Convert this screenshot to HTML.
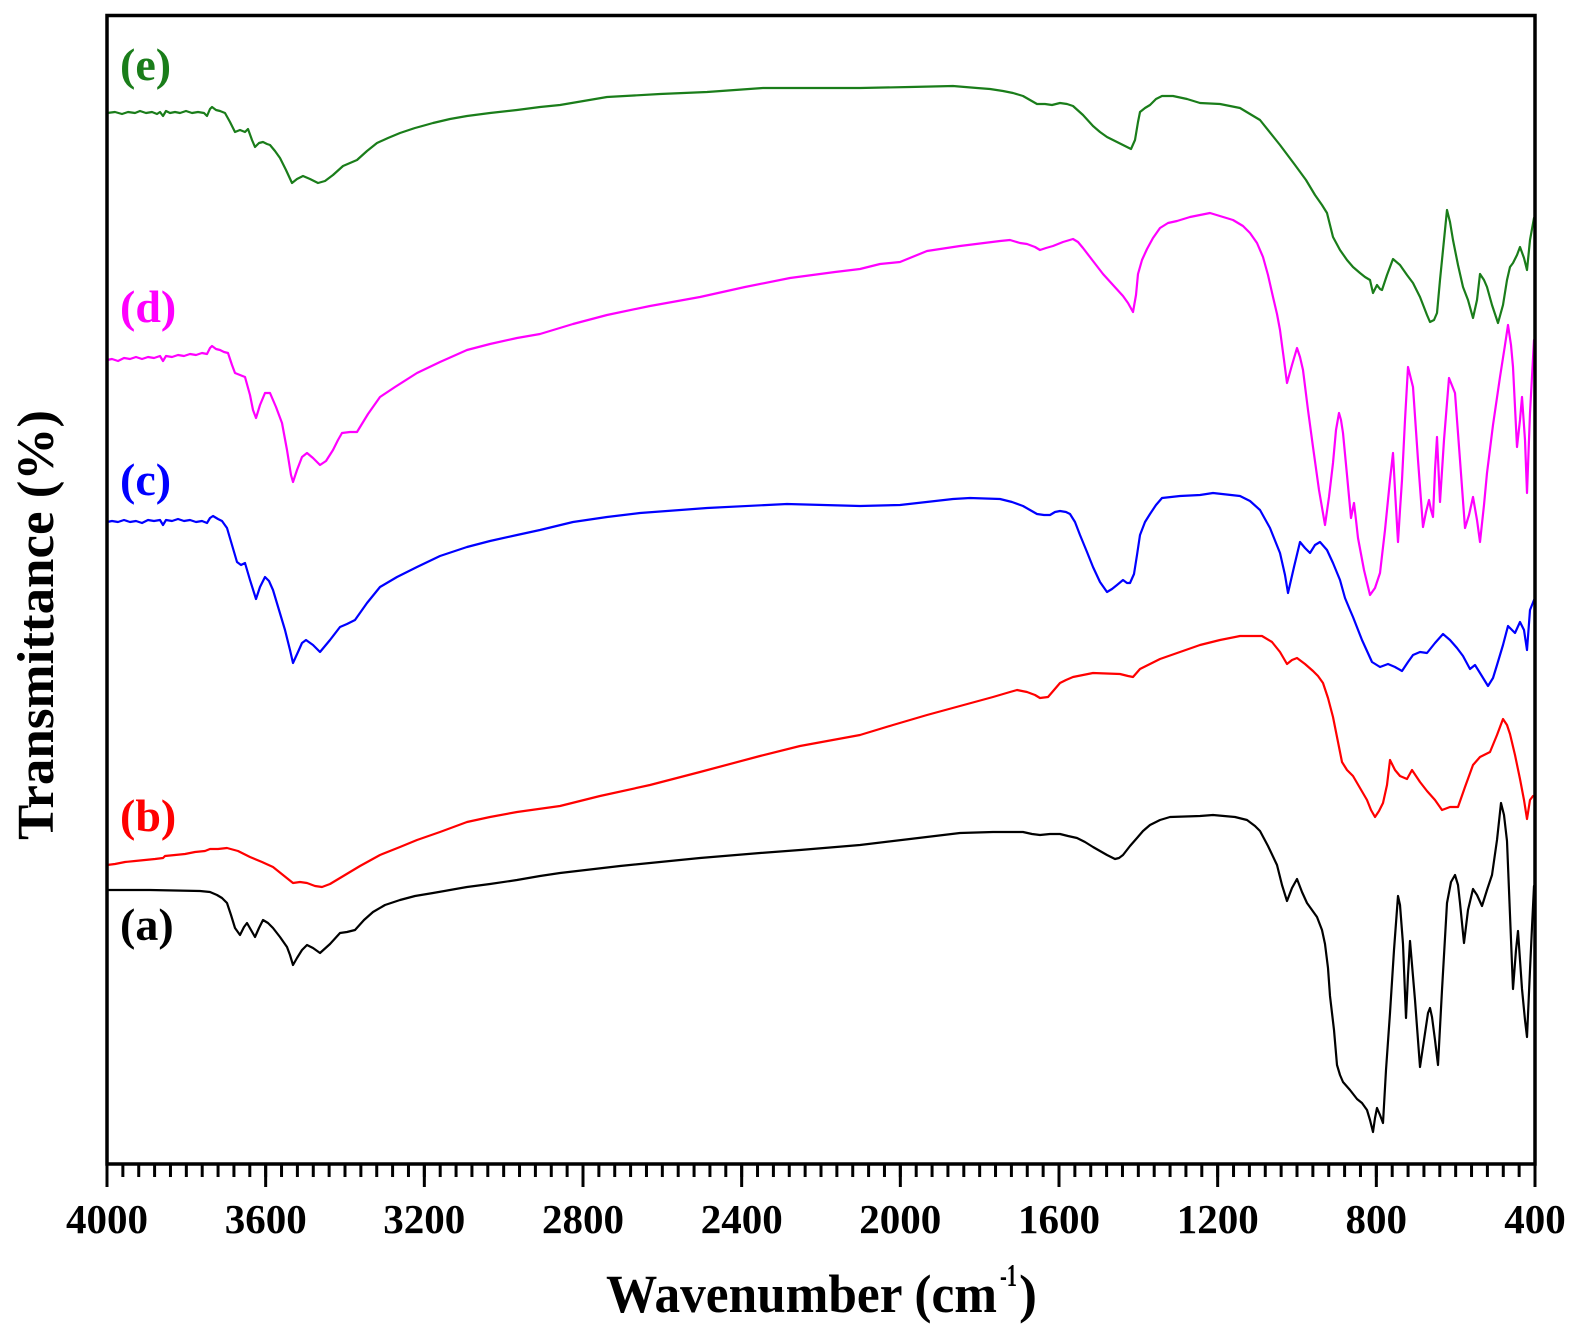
<!DOCTYPE html>
<html>
<head>
<meta charset="utf-8">
<style>
  html,body{margin:0;padding:0;background:#fff;}
  svg{display:block;}
  text{font-family:"Liberation Serif","Times New Roman",serif;font-weight:bold;}
</style>
</head>
<body>
<svg width="1575" height="1331" viewBox="0 0 1575 1331" xmlns="http://www.w3.org/2000/svg">
  <rect x="0" y="0" width="1575" height="1331" fill="#fff"/>

  <!-- curves -->
  <g fill="none" stroke-width="2.2" stroke-linejoin="round" stroke-linecap="round">
    <!-- (e) green -->
    <polyline stroke="#1a7d1a" points="107,113 115,112 122,114 128,112 135,113 140,111 146,113 152,112 157,114 160,112 163,116 166,111 170,113 175,112 180,113 186,111 192,113 198,112 204,113 207,116 210,109 212,107 216,110 220,111 225,113 230,122 235,132 240,130 245,132 248,129 252,140 255,147 259,143 263,142 267,144 270,145 275,151 280,158 286,170 292,183 297,179 303,176 310,179 318,183 325,181 333,175 343,166 350,163 357,160 367,151 377,143 388,138 400,133 415,128 433,123 450,119 467,116 490,113 517,110 540,107 560,105 607,97 660,94 707,92 763,88 810,88 860,88 910,87 953,86 977,88 990,89 1003,91 1013,93 1023,96 1030,100 1037,104 1045,104 1052,105 1060,103 1067,104 1073,106 1083,115 1093,126 1100,132 1107,137 1115,141 1123,145 1131,149 1135,140 1138,122 1140,112 1145,108 1150,105 1156,99 1162,96 1173,96 1187,99 1200,103 1220,104 1240,108 1260,120 1280,145 1295,165 1306,180 1315,195 1322,205 1327,213 1333,237 1340,250 1347,260 1353,267 1360,273 1365,277 1370,280 1373,293 1377,285 1380,289 1382,290 1387,275 1393,259 1400,265 1407,275 1413,283 1420,297 1427,315 1430,322 1434,320 1437,313 1440,280 1444,240 1447,210 1450,222 1453,240 1458,265 1463,287 1468,300 1473,318 1477,300 1480,274 1484,280 1487,287 1492,305 1498,323 1503,305 1507,280 1510,267 1513,263 1517,255 1520,247 1524,258 1527,270 1530,240 1534,218"/>
    <!-- (d) magenta -->
    <polyline stroke="#ff00ff" points="107,360 112,359 118,361 124,358 130,359 136,357 142,359 148,357 154,358 160,356 163,361 166,356 172,357 178,355 184,356 190,354 196,355 202,353 207,354 210,348 212,346 216,349 220,350 224,352 228,353 232,365 235,373 240,375 245,377 250,395 253,410 256,418 260,405 265,393 270,393 276,407 282,423 287,450 291,475 293,482 297,470 302,457 307,453 313,458 320,465 326,461 333,450 338,440 342,433 350,432 357,432 368,414 380,397 395,387 417,373 440,362 467,350 490,344 517,338 540,334 573,324 607,315 650,306 700,297 745,287 790,278 835,272 860,269 880,264 900,262 927,251 960,246 1000,241 1010,240 1020,243 1027,244 1035,247 1040,250 1046,248 1053,246 1063,242 1073,239 1078,242 1083,248 1093,261 1103,274 1113,285 1123,296 1128,303 1133,312 1136,295 1138,274 1142,260 1147,249 1153,238 1160,228 1168,223 1177,221 1190,217 1210,213 1233,220 1243,226 1250,233 1257,243 1263,257 1268,275 1273,297 1277,314 1280,330 1284,360 1287,383 1292,365 1297,348 1300,357 1303,370 1308,410 1313,447 1319,490 1325,525 1329,497 1333,463 1336,430 1339,413 1341,420 1343,433 1347,475 1351,518 1354,503 1356,520 1358,538 1364,570 1370,595 1375,588 1380,573 1385,530 1390,480 1393,453 1395,490 1398,542 1400,510 1402,480 1405,420 1408,367 1413,387 1418,460 1423,527 1426,512 1429,500 1431,510 1433,517 1435,470 1437,437 1439,480 1440,502 1444,440 1449,378 1455,393 1460,460 1465,528 1469,515 1473,497 1477,520 1480,542 1484,505 1487,473 1493,425 1500,377 1505,345 1508,325 1511,345 1513,367 1517,447 1520,420 1522,397 1525,440 1527,493 1530,413 1534,340"/>
    <!-- (c) blue -->
    <polyline stroke="#0000ff" points="107,522 112,521 118,522 124,520 130,522 136,521 142,523 148,520 154,521 160,520 163,525 166,520 172,521 178,519 184,521 190,520 196,522 202,521 207,523 210,518 213,516 218,519 222,521 227,528 232,545 237,562 241,565 245,563 250,580 256,599 260,587 265,577 269,581 273,590 279,610 285,630 290,650 293,663 298,652 302,643 306,640 313,645 320,652 330,640 340,627 347,624 355,620 367,603 380,587 397,577 417,567 440,556 467,547 490,541 517,535 540,530 573,522 607,517 640,513 707,508 787,504 860,506 900,505 953,499 970,498 1000,499 1012,502 1023,506 1030,510 1037,514 1044,515 1050,515 1055,512 1060,511 1066,512 1070,514 1075,522 1080,535 1087,552 1093,567 1100,582 1107,592 1112,589 1117,585 1123,580 1127,583 1130,583 1134,574 1137,555 1140,535 1145,522 1150,514 1156,505 1162,498 1180,496 1200,495 1213,493 1240,496 1250,501 1260,510 1270,528 1280,553 1285,575 1288,593 1294,567 1300,542 1305,548 1310,553 1315,545 1320,542 1327,550 1333,563 1340,580 1345,598 1350,610 1353,617 1362,640 1372,662 1380,667 1388,664 1395,667 1402,671 1408,662 1413,655 1420,652 1427,653 1435,643 1443,634 1450,640 1457,648 1463,656 1470,669 1475,665 1480,673 1488,686 1493,678 1497,665 1503,645 1508,626 1512,630 1515,633 1520,622 1524,630 1527,650 1530,610 1534,600"/>
    <!-- (b) red -->
    <polyline stroke="#ff0000" points="107,865 115,864 125,862 135,861 145,860 155,859 163,858 165,856 175,855 185,854 195,852 205,851 210,849 218,849 227,848 238,851 250,857 262,862 273,867 283,875 293,883 300,882 307,883 315,886 322,887 330,884 340,878 360,866 380,855 400,847 417,840 440,832 467,822 490,817 517,812 560,806 600,796 650,785 700,772 760,756 800,746 860,735 893,725 927,715 960,706 993,697 1010,692 1017,690 1027,692 1035,695 1040,698 1048,697 1054,690 1060,683 1066,680 1073,677 1093,673 1120,674 1128,676 1133,677 1140,669 1160,659 1180,652 1200,645 1220,640 1240,636 1262,636 1272,642 1280,652 1287,664 1292,660 1297,658 1305,664 1313,671 1318,676 1323,683 1328,698 1333,717 1338,742 1342,762 1347,770 1353,776 1360,788 1367,800 1371,810 1375,817 1379,811 1383,803 1387,785 1390,760 1395,770 1400,776 1407,779 1412,770 1420,782 1427,791 1435,800 1442,810 1450,807 1458,807 1465,787 1473,765 1480,757 1490,752 1497,735 1503,719 1507,725 1510,734 1515,755 1520,779 1524,800 1527,819 1530,800 1533,796"/>
    <!-- (a) black -->
    <polyline stroke="#000000" points="107,890 150,890 200,891 210,892 217,895 222,898 227,903 231,915 235,928 240,935 244,927 247,923 251,930 255,937 259,928 263,920 268,923 273,928 280,937 287,947 290,955 293,965 297,958 302,950 307,945 313,948 320,953 330,944 340,933 347,932 355,930 364,920 373,912 385,905 400,900 415,896 433,893 450,890 467,887 490,884 517,880 540,876 560,873 620,866 700,858 760,853 800,850 860,845 910,839 960,833 993,832 1023,832 1032,834 1040,835 1050,834 1060,834 1068,836 1077,838 1085,842 1093,847 1100,851 1107,855 1115,859 1119,858 1123,855 1130,846 1137,838 1143,831 1150,825 1160,820 1170,817 1200,816 1213,815 1235,817 1247,820 1255,826 1260,831 1268,846 1277,865 1282,885 1287,901 1292,888 1297,879 1302,892 1307,903 1312,910 1317,917 1322,930 1325,944 1328,968 1330,996 1334,1030 1337,1065 1340,1075 1343,1082 1350,1090 1357,1099 1362,1103 1367,1110 1370,1120 1373,1132 1375,1118 1377,1108 1380,1115 1383,1123 1386,1070 1390,1013 1394,950 1398,896 1400,905 1403,944 1406,1018 1408,975 1410,941 1415,1000 1420,1067 1424,1040 1428,1013 1430,1008 1432,1017 1435,1040 1438,1065 1442,990 1447,903 1451,882 1455,875 1458,885 1460,903 1464,943 1468,910 1473,889 1477,895 1482,906 1487,890 1492,875 1497,840 1501,803 1504,815 1507,841 1510,915 1513,989 1516,950 1518,931 1520,960 1522,989 1525,1020 1527,1037 1530,970 1532,927 1534,886"/>
  </g>

  <!-- frame -->
  <rect x="107" y="15.5" width="1428" height="1148.5" fill="none" stroke="#000" stroke-width="3.5"/>

  <!-- ticks (bottom, outward) -->
  <line x1="105.5" y1="1170.5" x2="1537" y2="1170.5" stroke="#000" stroke-width="13" stroke-dasharray="3 12.8667"/>
  <line x1="105.5" y1="1175.5" x2="1537" y2="1175.5" stroke="#000" stroke-width="23" stroke-dasharray="3 155.6667"/>

  <!-- tick labels -->
  <g font-size="41" text-anchor="middle" fill="#000">
    <text x="107" y="1233">4000</text>
    <text x="265.7" y="1233">3600</text>
    <text x="424.3" y="1233">3200</text>
    <text x="583" y="1233">2800</text>
    <text x="741.7" y="1233">2400</text>
    <text x="900.3" y="1233">2000</text>
    <text x="1059" y="1233">1600</text>
    <text x="1217.7" y="1233">1200</text>
    <text x="1376.3" y="1233">800</text>
    <text x="1535" y="1233">400</text>
  </g>

  <!-- axis titles -->
  <text x="606" y="1312" font-size="54" textLength="391" lengthAdjust="spacingAndGlyphs" fill="#000">Wavenumber (cm</text>
  <text x="1000" y="1286" font-size="32" textLength="17" lengthAdjust="spacingAndGlyphs" fill="#000">-1</text>
  <text x="1019" y="1312" font-size="54" fill="#000">)</text>

  <text transform="translate(53,625) rotate(-90)" text-anchor="middle" font-size="52" textLength="430" lengthAdjust="spacingAndGlyphs" fill="#000">Transmittance (%)</text>

  <!-- series labels -->
  <g font-size="46">
    <text x="120" y="80" fill="#1a7d1a">(e)</text>
    <text x="120" y="322" fill="#ff00ff">(d)</text>
    <text x="120" y="495" fill="#0000ff">(c)</text>
    <text x="120" y="831" fill="#ff0000">(b)</text>
    <text x="120" y="940" fill="#000000">(a)</text>
  </g>
</svg>
</body>
</html>
